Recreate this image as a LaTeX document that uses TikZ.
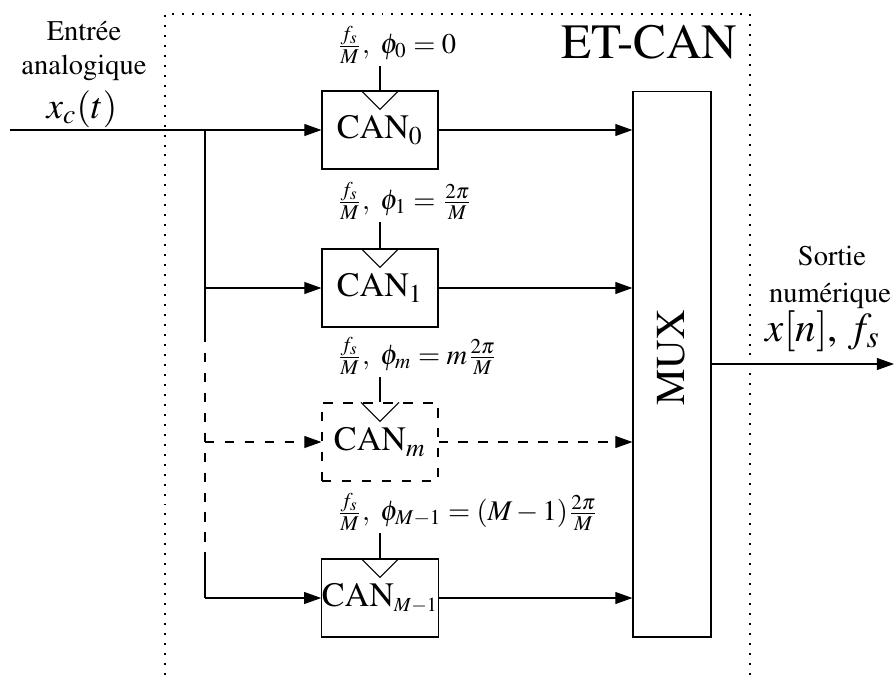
\documentclass[tikz,border=0pt]{standalone}
\usepackage[T1]{fontenc}
\usepackage{mathptmx}
\usepackage{amsmath}
\usepackage{tikz}
\usetikzlibrary{arrows.meta,calc}
\tikzstyle{canbox}=[draw, inner sep=0pt, minimum width=40.7pt, minimum height=27.4pt, font=\large]
\tikzstyle{muxbox}=[draw, inner sep=0pt, minimum width=27.4pt, minimum height=191.6pt]
\tikzstyle{param}=[inner sep=0pt, outer sep=1pt, anchor=south west]
\tikzstyle{etcanframe}=[line width=.7pt, dash pattern=on .7pt off 2.8pt]
\tikzstyle{dashedline}=[dash pattern=on 3.3pt off 3.7pt]
\tikzstyle{sig}=[-{Triangle[length=6pt,width=4.2pt]}]
\newcommand{\canBlock}[4]{
	\node[canbox, #3] (#1) at (380,#2) {CAN$_{#4}$};
	\draw ($(#1.north)+(-19,0)$) -- ($(#1.north)+(0,19)$) -- ($(#1.north)+(19,0)$);
}

\begin{document}
\begin{tikzpicture}[x=.351pt, y=-.351pt]
	\useasboundingbox (0,0) rectangle (895,675);
	\draw[etcanframe] (165,675) -- (165,14) -- (750,14) -- (750,675);
	\node[anchor=base east, inner sep=0pt] (etcan) at (738,58) {\LARGE ET-CAN};
	% converters
	\canBlock{can0}{130}{}{0}
	\canBlock{can1}{288}{}{1}
	\canBlock{canm}{442}{dashedline}{m}
	\canBlock{canM}{598}{}{\scriptscriptstyle M-1}
	\node[param] (par0) at (334,66) {$\frac{f_s}{M},\ \phi_0=0$};
	\node[param] (par1) at (334,222) {$\frac{f_s}{M},\ \phi_1=\frac{2\pi}{M}$};
	\node[param] (parm) at (334,377) {$\frac{f_s}{M},\ \phi_m=m\frac{2\pi}{M}$};
	\node[param] (parM) at (334,533) {$\frac{f_s}{M},\ \phi_{M-1}=(M-1)\frac{2\pi}{M}$};
	\foreach \k in {0,1,m,M}{
		\draw (par\k.south -| can\k.north) -- (can\k.north);
	}
	% multiplexer
	\node[muxbox] (mux) at (672,364) {};
	\node[rotate=90, font=\Large] (muxtxt) at (671,358) {MUX};
	% input side
	\coordinate (in) at (10,130);
	\coordinate (split) at (205,130);
	\coordinate (dashA) at (205,333);
	\coordinate (dashB) at (205,560);
	\draw[sig] (in) -- (can0.west);
	\draw (split) -- (dashA);
	\draw[dashedline] (dashA) -- (dashB);
	\draw (dashB) -- (split |- canM.west);
	\draw[sig] (split |- can1.west) -- (can1.west);
	\draw[sig, dashedline] (split |- canm.west) -- (canm.west);
	\draw[sig] (split |- canM.west) -- (canM.west);
	% output side
	\draw[sig] (can0.east) -- (can0.east -| mux.west);
	\draw[sig] (can1.east) -- (can1.east -| mux.west);
	\draw[sig, dashedline] (canm.east) -- (canm.east -| mux.west);
	\draw[sig] (canM.east) -- (canM.east -| mux.west);
	\coordinate (out) at (894,364);
	\draw[sig] (mux.east) -- (out);
	% texts
	\node[anchor=base] (inA) at (84,40) {Entr\'ee};
	\node[anchor=base] (inB) at (84,74) {analogique};
	\node[anchor=base] (inC) at (82,118) {\fontsize{13}{15}\selectfont $x_c(t)$};
	\node[anchor=base] (outA) at (832,265) {Sortie};
	\node[anchor=base] (outB) at (830,302) {num\'erique};
	\node[anchor=base] (outC) at (823,341) {\Large $x[n]$, $f_s$};
\end{tikzpicture}
\end{document}
